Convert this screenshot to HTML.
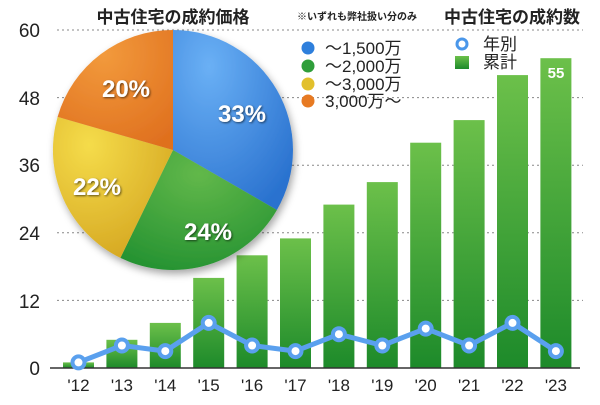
<!DOCTYPE html>
<html><head><meta charset="utf-8"><style>
html,body{margin:0;padding:0;background:#fff;}
svg text{font-family:"Liberation Sans","Noto Sans CJK JP",sans-serif;}
</style></head><body>
<svg width="600" height="400" viewBox="0 0 600 400" xmlns="http://www.w3.org/2000/svg">
<defs>
<linearGradient id="bar" x1="0" y1="0" x2="0" y2="1"><stop offset="0" stop-color="#6cc04a"/><stop offset="1" stop-color="#1d8a2a"/></linearGradient>
<radialGradient id="gb" cx="0.3" cy="0.2" r="0.9"><stop offset="0" stop-color="#6ab0f5"/><stop offset="1" stop-color="#2a72cf"/></radialGradient>
<radialGradient id="gg" cx="0.5" cy="0.2" r="0.9"><stop offset="0" stop-color="#62b84a"/><stop offset="1" stop-color="#219030"/></radialGradient>
<radialGradient id="gy" cx="0.3" cy="0.2" r="0.9"><stop offset="0" stop-color="#f5dc4a"/><stop offset="1" stop-color="#d4a520"/></radialGradient>
<radialGradient id="go" cx="0.4" cy="0.2" r="0.9"><stop offset="0" stop-color="#f29a3c"/><stop offset="1" stop-color="#df6f1e"/></radialGradient>
<filter id="sh" x="-20%" y="-20%" width="140%" height="140%"><feDropShadow dx="2" dy="4" stdDeviation="4" flood-opacity="0.35"/></filter>
<filter id="ts"><feDropShadow dx="1" dy="1" stdDeviation="1" flood-opacity="0.6"/></filter>
</defs>
<g stroke="#888" stroke-width="1" stroke-dasharray="2,3">
<line x1="57" y1="30" x2="583" y2="30"/><line x1="57" y1="97.6" x2="583" y2="97.6"/>
<line x1="57" y1="165.2" x2="583" y2="165.2"/><line x1="57" y1="232.8" x2="583" y2="232.8"/>
<line x1="57" y1="300.4" x2="583" y2="300.4"/>
</g>
<g font-size="19" fill="#222" text-anchor="end">
<text x="40" y="37">60</text><text x="40" y="105">48</text><text x="40" y="172">36</text>
<text x="40" y="240">24</text><text x="40" y="308">12</text><text x="40" y="375">0</text>
</g>
<g fill="url(#bar)">
<rect x="63" y="362.4" width="31" height="5.6"/>
<rect x="106.4" y="339.8" width="31" height="28.2"/>
<rect x="149.8" y="322.9" width="31" height="45.1"/>
<rect x="193.2" y="277.9" width="31" height="90.1"/>
<rect x="236.6" y="255.3" width="31" height="112.7"/>
<rect x="280" y="238.4" width="31" height="129.6"/>
<rect x="323.4" y="204.6" width="31" height="163.4"/>
<rect x="366.8" y="182.1" width="31" height="185.9"/>
<rect x="410.2" y="142.7" width="31" height="225.3"/>
<rect x="453.6" y="120.1" width="31" height="247.9"/>
<rect x="497" y="75.1" width="31" height="292.9"/>
<rect x="540.4" y="58.2" width="31" height="309.8"/>
</g>
<line x1="50" y1="368" x2="580" y2="368" stroke="#333" stroke-width="1.5"/>
<text x="556" y="78" font-size="15" font-weight="bold" fill="#fff" text-anchor="middle">55</text>
<g filter="url(#sh)">
<path d="M173,150 L173,30 A120,120 0 0 1 276.9,210 Z" fill="url(#gb)"/>
<path d="M173,150 L276.9,210 A120,120 0 0 1 120.4,257.9 Z" fill="url(#gg)"/>
<path d="M173,150 L120.4,257.9 A120,120 0 0 1 57.6,116.9 Z" fill="url(#gy)"/>
<path d="M173,150 L57.6,116.9 A120,120 0 0 1 173,30 Z" fill="url(#go)"/>
</g>
<g font-size="24" font-weight="bold" fill="#fff" text-anchor="middle" filter="url(#ts)">
<text x="242" y="122">33%</text><text x="208" y="240">24%</text>
<text x="97" y="195">22%</text><text x="126" y="97">20%</text>
</g>
<polyline fill="none" stroke="#5aa0ee" stroke-width="5" stroke-linejoin="round" points="78.5,362.4 121.9,345.5 165.3,351.1 208.7,322.9 252.1,345.5 295.5,351.1 338.9,334.2 382.3,345.5 425.7,328.6 469.1,345.5 512.5,322.9 555.9,351.1"/>
<g fill="#fff" stroke="#5aa0ee" stroke-width="4">
<circle cx="78.5" cy="362.4" r="6"/><circle cx="121.9" cy="345.5" r="6"/><circle cx="165.3" cy="351.1" r="6"/>
<circle cx="208.7" cy="322.9" r="6"/><circle cx="252.1" cy="345.5" r="6"/><circle cx="295.5" cy="351.1" r="6"/>
<circle cx="338.9" cy="334.2" r="6"/><circle cx="382.3" cy="345.5" r="6"/><circle cx="425.7" cy="328.6" r="6"/>
<circle cx="469.1" cy="345.5" r="6"/><circle cx="512.5" cy="322.9" r="6"/><circle cx="555.9" cy="351.1" r="6"/>
</g>
<g font-size="17" fill="#222" text-anchor="middle">
<text x="78.5" y="391">'12</text><text x="121.9" y="391">'13</text><text x="165.3" y="391">'14</text>
<text x="208.7" y="391">'15</text><text x="252.1" y="391">'16</text><text x="295.5" y="391">'17</text>
<text x="338.9" y="391">'18</text><text x="382.3" y="391">'19</text><text x="425.7" y="391">'20</text>
<text x="469.1" y="391">'21</text><text x="512.5" y="391">'22</text><text x="555.9" y="391">'23</text>
</g>
<text x="173" y="23" font-size="17" font-weight="bold" fill="#222" text-anchor="middle">中古住宅の成約価格</text>
<text x="297" y="20" font-size="10" font-weight="bold" fill="#222">※いずれも弊社扱い分のみ</text>
<text x="444" y="23" font-size="17" font-weight="bold" fill="#222">中古住宅の成約数</text>
<circle cx="308" cy="48" r="6.5" fill="#2e7fdc"/>
<circle cx="308" cy="66" r="6.5" fill="#2f9e3a"/>
<circle cx="308" cy="84" r="6.5" fill="#e2c02c"/>
<circle cx="308" cy="101" r="6.5" fill="#e77a22"/>
<g font-size="17" fill="#222">
<text x="325" y="54">～1,500万</text><text x="325" y="72">～2,000万</text>
<text x="325" y="90">～3,000万</text><text x="325" y="107">3,000万～</text>
</g>
<circle cx="462" cy="44" r="5" fill="#fff" stroke="#4a97ea" stroke-width="3"/>
<rect x="455" y="56" width="14" height="13" fill="url(#bar)"/>
<g font-size="17" fill="#222"><text x="483" y="50">年別</text><text x="483" y="68">累計</text></g>
</svg>
</body></html>
